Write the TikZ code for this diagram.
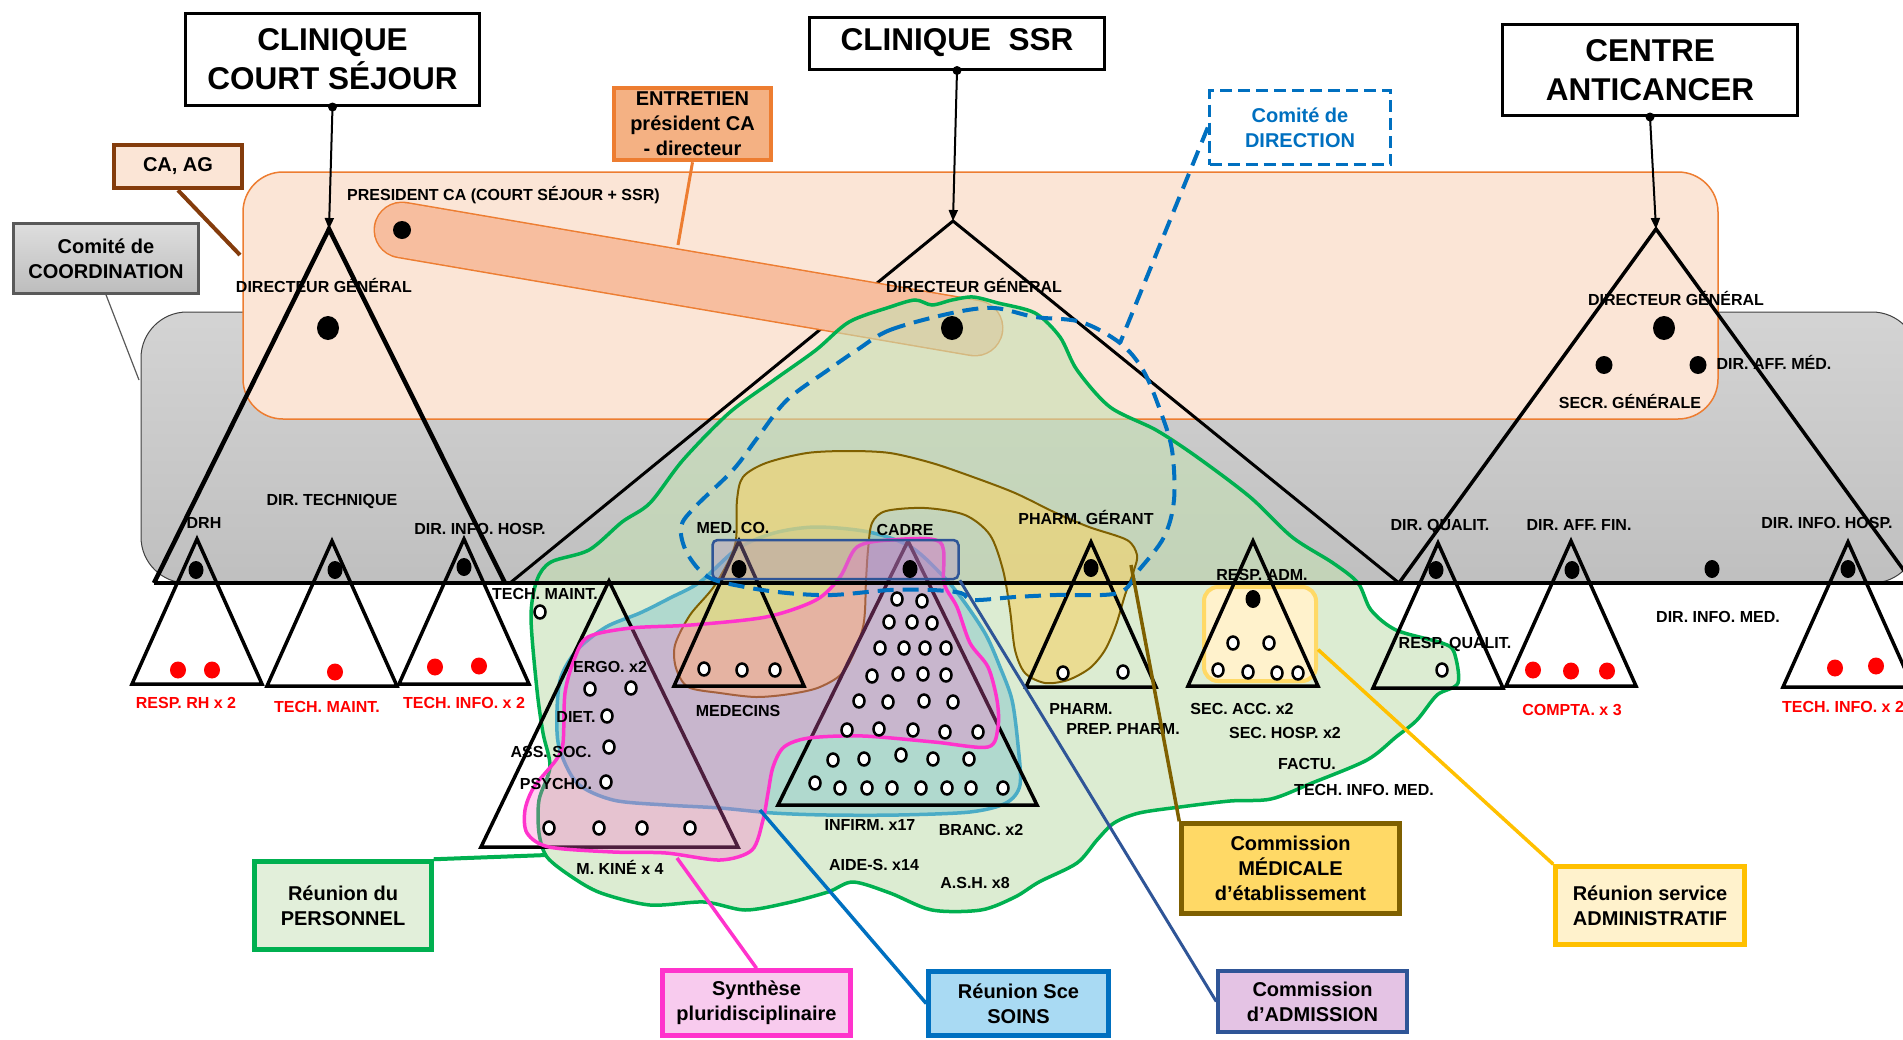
\documentclass[tikz,border=0pt]{standalone}
\usepackage{fontspec}
\setmainfont{Liberation Sans}
\usetikzlibrary{arrows.meta}

\definecolor{orgfill}{HTML}{FBE5D6}
\definecolor{orgline}{HTML}{ED7D31}
\definecolor{salmon}{HTML}{F4B183}
\definecolor{capfill}{HTML}{F7BE9F}
\definecolor{brownline}{HTML}{843C0C}
\definecolor{coordgray}{HTML}{595959}
\definecolor{dirblue}{HTML}{0070C0}
\definecolor{persgreen}{HTML}{00B050}
\definecolor{persfill}{HTML}{E2EFDA}
\definecolor{regiongreen}{HTML}{C5E0B4}
\definecolor{synthpink}{HTML}{FF33CC}
\definecolor{synthfill}{HTML}{F8CBEE}
\definecolor{pinkregion}{HTML}{FF66CC}
\definecolor{soinsfill}{HTML}{A9DAF3}
\definecolor{soinsteal}{HTML}{4BACC6}
\definecolor{admblue}{HTML}{2F5597}
\definecolor{admfill}{HTML}{E4C3E4}
\definecolor{admlav}{HTML}{B48CC8}
\definecolor{medgold}{HTML}{7F6000}
\definecolor{medfill}{HTML}{FFD966}
\definecolor{goldregion}{HTML}{F2D470}
\definecolor{adminline}{HTML}{FFC000}
\definecolor{adminfill}{HTML}{FFF2CC}
\definecolor{admsqline}{HTML}{FFD966}

\begin{document}
\begin{tikzpicture}[x=1pt,y=-1pt]

\tikzset{%
    lbl/.style={font=\fontsize{16}{18}\selectfont\bfseries, inner sep=0pt, text height=11.5pt, text depth=0pt},
    redlbl/.style={lbl, text=red},
    titlebox/.style={draw, line width=3pt, fill=white, align=center, inner sep=0pt, font=\fontsize{31.5}{39}\selectfont\bfseries},
    legendbox/.style={line width=4.5pt, align=center, inner sep=0pt, font=\fontsize{20}{25}\selectfont\bfseries},
    bigtri/.style={line width=4.5pt},
    smalltri/.style={line width=3.5pt},
    wdot/.style={draw=black, fill=white, line width=2.5pt},
    godown/.style={-{Triangle[width=9pt,length=11pt]}, line width=2pt},
}

%\smalltri{x}{y} apex of a service triangle
\newcommand*{\smalltri}[2]{%
    \draw [smalltri] (#1,#2) -- ++(-65,145) -- ++(130,0) -- cycle;
}

\useasboundingbox (0,0) rectangle (1903,1039);

% committee areas
\draw [black!75, line width=1pt, rounded corners=46pt, top color=black!17, bottom color=black!25] (141,312) rectangle (1918,583);
\draw [orgline, line width=1.5pt, fill=orgfill, rounded corners=40pt] (243,172) rectangle (1718,419);

% the three directions
\coordinate (csTop) at (329,229);
\coordinate (ssrTop) at (953,221);
\coordinate (cacTop) at (1656,229);
\draw [bigtri] (154,583) -- (csTop) -- (505,583);
\draw [bigtri, line width=3pt] (510,583) -- (ssrTop) -- (1399,583);
\draw [bigtri, line width=3.5pt] (1399,583) -- (cacTop) -- (1913,583);

% entretien president CA - directeur
\coordinate (capL) at (402,230);
\coordinate (capR) at (975,328);
\draw [orgline, line width=57pt, line cap=round] (capL) -- (capR);
\draw [capfill, line width=54pt, line cap=round] (capL) -- (capR);
\coordinate (entEnd) at (678,245);

% reunion du personnel
\draw [persgreen, line width=3.5pt, fill=regiongreen, fill opacity=0.6] plot [smooth cycle, tension=0.5] coordinates {
    (849,322) (890,307) (915,300) (932,305) (952,300) (973,297) (998,303) (1035,313) (1060,337) (1077,370)
    (1110,407) (1156,430) (1197,457) (1250,497) (1292,537) (1333,563) (1358,583) (1371,610) (1396,630) (1442,643)
    (1454,652) (1458,683) (1437,695) (1417,720) (1396,737) (1367,760) (1312,783) (1271,799) (1230,801) (1180,807)
    (1139,813) (1114,823) (1097,840) (1077,863) (1039,882) (1015,897) (981,910) (932,910) (890,893) (853,882)
    (828,892) (787,903) (745,910) (704,902) (650,905) (601,893) (572,877) (547,857) (539,833) (539,800)
    (550,767) (543,733) (537,690) (531,617) (537,580) (551,562) (589,550) (622,522) (650,503) (683,460)
    (729,413) (774,380) (816,350)};
\coordinate (persEnd) at (547,855);

% reunion sce soins
\draw [soinsteal, line width=3.5pt, fill=soinsteal, fill opacity=0.3] plot [smooth cycle, tension=0.5] coordinates {
    (700,582) (737,549) (774,533) (816,527) (869,532) (911,547) (944,577) (965,603) (986,635) (1000,667)
    (1012,700) (1018,745) (1020,785) (1006,803) (970,812) (898,815) (827,815) (773,813) (720,808) (666,805)
    (613,800) (577,783) (559,747) (557,710) (561,677) (577,650) (606,627) (640,613) (670,598)};
\coordinate (soinsEnd) at (760,810);

% commission medicale
\draw [medgold, line width=2pt, fill=goldregion, fill opacity=0.65] plot [smooth cycle, tension=0.5] coordinates {
    (866,580) (863,627) (845,670) (820,687) (790,694) (756,697) (720,693) (688,687) (676,668) (675,645)
    (690,615) (715,585) (735,545) (737,500) (743,477) (766,463) (807,453) (849,451) (890,453) (932,463)
    (973,477) (1015,493) (1056,513) (1089,527) (1127,540) (1137,555) (1134,570) (1125,595) (1116,625) (1105,650)
    (1090,668) (1068,680) (1045,683) (1025,673) (1015,650) (1010,610) (1003,570) (990,535) (965,515) (925,508)
    (886,511) (872,523) (868,550)};
\coordinate (medEnd) at (1131,565);

% soins triangles
\draw [smalltri] (609,581) -- (481,847) -- (738,847) -- cycle;
\draw [smalltri] (908,541) -- (778,805) -- (1037,805) -- cycle;

% synthese pluridisciplinaire
\draw [synthpink, line width=3.5pt, fill=pinkregion, fill opacity=0.3] plot [smooth cycle, tension=0.5] coordinates {
    (588,637) (574,660) (565,693) (563,743) (556,760) (534,787) (525,810) (527,833) (549,847) (613,852)
    (666,853) (720,860) (752,850) (763,820) (768,793) (773,767) (784,747) (809,738) (863,736) (934,742)
    (988,747) (998,727) (997,700) (988,667) (970,643) (957,607) (944,583) (940,542) (890,540) (857,547)
    (840,577) (816,600) (766,617) (691,625) (631,628)};
\coordinate (synthEnd) at (677,858);

% base line
\draw [bigtri] (154,583) -- (1910,583);

% reunion service administratif
\node [draw=admsqline, line width=4pt, fill=adminfill, rounded corners=14pt, minimum width=112pt, minimum height=94pt, inner sep=0pt] (admSq) at (1260,634) {};

% service triangles
\smalltri{197}{539}
\smalltri{332}{541}
\smalltri{464}{539}
\smalltri{739}{541}
\smalltri{1091}{542}
\smalltri{1253}{541}
\smalltri{1438}{543}
\smalltri{1571}{541}
\smalltri{1848}{542}

% commission d'admission
\node [draw=admblue, line width=2.5pt, fill=admlav, fill opacity=0.35, rounded corners=5pt, minimum width=246pt, minimum height=39pt, inner sep=0pt] (admRect) at (835.5,559.5) {};

% comite de direction
\draw [dirblue, line width=4pt, dash pattern=on 16pt off 9pt] plot [smooth cycle, tension=0.55] coordinates {
    (857,350) (890,330) (952,313) (994,308) (1035,317) (1081,322) (1120,343) (1143,370) (1160,410) (1172,450)
    (1174,500) (1164,537) (1139,570) (1118,593) (1056,595) (1015,597) (973,600) (961,593) (932,590) (890,590)
    (832,595) (787,593) (745,587) (708,577) (687,553) (681,527) (695,507) (733,470) (758,437) (787,400)
    (828,370)};
\coordinate (dirEnd) at (1120,343);

% persons
\fill (capL) ellipse [x radius=9, y radius=9];
\foreach \px/\py in {328/328, 952/328, 1664/328}
    \fill (\px,\py) ellipse [x radius=11, y radius=12];
\foreach \px/\py in {1604/365, 1698/365}
    \fill (\px,\py) ellipse [x radius=8.5, y radius=9];
\foreach \px/\py in {196/570, 335/570, 464/567, 739/569, 910/569, 1091/568, 1253/599, 1436/570, 1572/570, 1712/569, 1848/569}
    \fill (\px,\py) ellipse [x radius=7.5, y radius=9];
\foreach \px/\py in {178/670, 212/670, 335/672, 435/667, 479/666, 1533/670, 1571/671, 1607/671, 1835/668, 1876/666}
    \fill [red] (\px,\py) ellipse [x radius=8, y radius=8.5];
\foreach \px/\py in {540/612, 704/669, 742/670, 775/670,
    590/689, 631/688, 607/716, 609/747, 606/782, 549/828, 599/828, 642/828, 690/828,
    897/599, 922/601, 889/622, 912/622, 932/623, 880/648, 904/648, 925/648, 946/648,
    872/676, 898/674, 923/674, 946/675, 859/701, 888/702, 924/701, 953/702,
    847/730, 879/729, 913/730, 945/732, 978/732, 833/760, 864/759, 901/755, 933/759, 969/759,
    815/783, 840/788, 867/788, 892/788, 921/788, 947/788, 971/788, 1003/788,
    1063/673, 1123/672, 1233/643, 1269/643, 1218/670, 1248/672, 1277/673, 1298/673, 1442/670}
    \draw [wdot] (\px,\py) ellipse [x radius=5.5, y radius=6.5];

% labels
\node [lbl, anchor=west] (lPres) at (347,195) {PRESIDENT CA (COURT SÉJOUR + SSR)};
\node [lbl] (lDgCs) at (324,287) {DIRECTEUR GÉNÉRAL};
\node [lbl] (lDgSsr) at (974,287) {DIRECTEUR GÉNÉRAL};
\node [lbl] (lDgCac) at (1676,300) {DIRECTEUR GÉNÉRAL};
\node [lbl] (lAffMed) at (1774,364) {DIR. AFF. MÉD.};
\node [lbl] (lSecr) at (1630,403) {SECR. GÉNÉRALE};
\node [lbl] (lDrh) at (204,523) {DRH};
\node [lbl] (lTech) at (332,500) {DIR. TECHNIQUE};
\node [lbl] (lInfoCs) at (480,529) {DIR. INFO. HOSP.};
\node [redlbl] (lRh) at (186,703) {RESP. RH x 2};
\node [redlbl] (lMaintCs) at (327,707) {TECH. MAINT.};
\node [redlbl] (lTechInfoCs) at (464,703) {TECH. INFO. x 2};
\node [lbl] (lMaint) at (545,594) {TECH. MAINT.};
\node [lbl] (lMedCo) at (733,528) {MED. CO.};
\node [lbl] (lCadre) at (905,530) {CADRE};
\node [lbl] (lPharmG) at (1086,519) {PHARM. GÉRANT};
\node [lbl] (lRespAdm) at (1262,575) {RESP. ADM.};
\node [lbl] (lQualit) at (1440,525) {DIR. QUALIT.};
\node [lbl] (lAffFin) at (1579,525) {DIR. AFF. FIN.};
\node [lbl] (lInfoCac) at (1827,523) {DIR. INFO. HOSP.};
\node [lbl] (lRespQ) at (1455,643) {RESP. QUALIT.};
\node [lbl] (lInfoMed) at (1718,617) {DIR. INFO. MED.};
\node [redlbl] (lCompta) at (1572,710) {COMPTA. x 3};
\node [redlbl] (lTechInfoCac) at (1843,707) {TECH. INFO. x 2};
\node [lbl] (lErgo) at (610,667) {ERGO. x2};
\node [lbl] (lDiet) at (576,717) {DIET.};
\node [lbl] (lAss) at (551,752) {ASS. SOC.};
\node [lbl] (lPsy) at (556,784) {PSYCHO.};
\node [lbl] (lKine) at (620,869) {M. KINÉ x 4};
\node [lbl] (lMedecins) at (738,711) {MEDECINS};
\node [lbl] (lInf) at (870,825) {INFIRM. x17};
\node [lbl] (lBranc) at (981,830) {BRANC. x2};
\node [lbl] (lAide) at (874,865) {AIDE-S. x14};
\node [lbl] (lAsh) at (975,883) {A.S.H. x8};
\node [lbl] (lPharm) at (1081,709) {PHARM.};
\node [lbl] (lPrep) at (1123,729) {PREP. PHARM.};
\node [lbl] (lAcc) at (1242,709) {SEC. ACC. x2};
\node [lbl] (lHosp) at (1285,733) {SEC. HOSP. x2};
\node [lbl] (lFactu) at (1307,764) {FACTU.};
\node [lbl] (lTim) at (1364,790) {TECH. INFO. MED.};

% meetings
\node [legendbox, draw=coordgray, line width=2.5pt, top color=black!13, bottom color=black!26, minimum width=185pt, minimum height=70pt] (bCoord) at (106,258.5) {Comité de\\COORDINATION};
\node [legendbox, draw=brownline, fill=orgfill, minimum width=128pt, minimum height=43pt] (bCa) at (178,166.5) {CA, AG};
\node [legendbox, draw=orgline, fill=salmon, minimum width=157pt, minimum height=72pt] (bEnt) at (692.5,124) {ENTRETIEN\\président CA\\- directeur};
\node [legendbox, draw=dirblue, line width=3.5pt, dash pattern=on 12pt off 6pt, text=dirblue, fill=white, minimum width=181pt, minimum height=74pt] (bDir) at (1300,127.5) {Comité de\\DIRECTION};
\node [legendbox, draw=persgreen, fill=persfill, minimum width=177pt, minimum height=88pt] (bPers) at (343,905.5) {Réunion du\\PERSONNEL};
\node [legendbox, draw=synthpink, fill=synthfill, minimum width=188pt, minimum height=65pt] (bSynth) at (756.5,1003) {Synthèse\\pluridisciplinaire};
\node [legendbox, draw=dirblue, fill=soinsfill, minimum width=180pt, minimum height=64pt] (bSoins) at (1018.5,1003.5) {Réunion Sce\\SOINS};
\node [legendbox, draw=admblue, line width=3.5pt, fill=admfill, minimum width=189pt, minimum height=61pt] (bAdm) at (1312.5,1001.5) {Commission\\d’ADMISSION};
\node [legendbox, draw=medgold, fill=medfill, minimum width=218pt, minimum height=90pt] (bMed) at (1290.5,868.5) {Commission\\MÉDICALE\\d’établissement};
\node [legendbox, draw=adminline, fill=adminfill, minimum width=189pt, minimum height=78pt] (bAdmin) at (1650,905.5) {Réunion service\\ADMINISTRATIF};

\coordinate (coordEnd) at (139,380);
\coordinate (caEnd) at (240,255);
\draw [coordgray, line width=1.2pt] (bCoord.south) -- (coordEnd);
\draw [brownline, line width=4pt] (bCa.south) -- (caEnd);
\draw [orgline, line width=3pt] (bEnt.south) -- (entEnd);
\draw [dirblue, line width=4pt, dash pattern=on 16pt off 9pt] (bDir.west) -- (dirEnd);
\draw [persgreen, line width=4pt] (bPers.north east) -- (persEnd);
\draw [synthpink, line width=3.5pt] (bSynth.north) -- (synthEnd);
\draw [dirblue, line width=3.5pt] (bSoins.west) -- (soinsEnd);
\draw [admblue, line width=3pt] (bAdm.west) -- (admRect.south east);
\draw [medgold, line width=3.5pt] (bMed.north west) -- (medEnd);
\draw [adminline, line width=3.5pt] (bAdmin.north west) -- (admSq.345);

% establishments
\node [titlebox, minimum width=294pt, minimum height=92pt] (tCs) at (332.5,59.5) {CLINIQUE\\COURT SÉJOUR};
\node [titlebox, minimum width=295pt, minimum height=52pt] (tSsr) at (957,43) {CLINIQUE\ \ SSR};
\node [titlebox, minimum width=295pt, minimum height=91pt] (tCac) at (1650,70) {CENTRE\\ANTICANCER};
\fill (tCs.south) circle (4.5);
\fill (tSsr.south) circle (4.5);
\fill (tCac.south) circle (4.5);
\draw [godown] (tCs.south) -- (csTop);
\draw [godown] (tSsr.south) -- (ssrTop);
\draw [godown] (tCac.south) -- (cacTop);

\end{tikzpicture}
\end{document}
